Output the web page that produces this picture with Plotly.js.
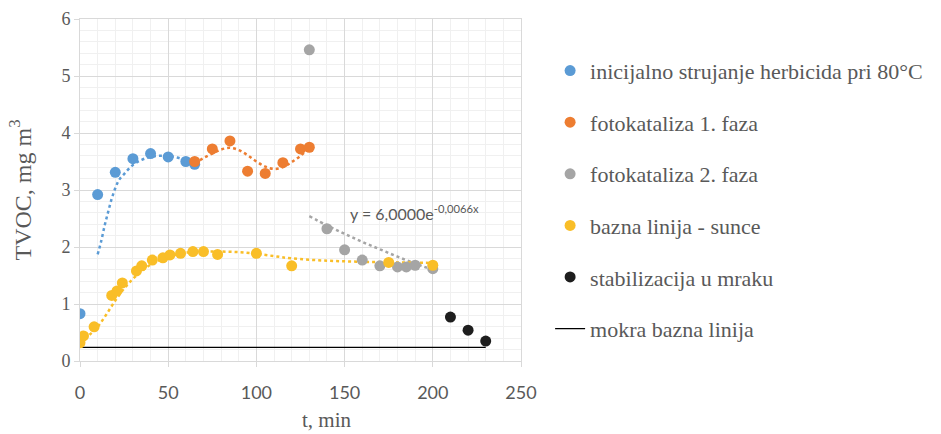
<!DOCTYPE html>
<html>
<head>
<meta charset="utf-8">
<script src="https://cdn.plot.ly/plotly-3.0.1.min.js"></script>
<style>html,body{margin:0;padding:0;background:#fff;}#chart{width:941px;height:434px;}</style>
</head>
<body>
<div id="chart"></div>
<script>
// ---- data ----
const seriesNames = [
  "inicijalno strujanje herbicida pri 80°C",
  "fotokataliza 1. faza",
  "fotokataliza 2. faza",
  "bazna linija - sunce",
  "stabilizacija u mraku",
  "mokra bazna linija"
];

const blueX = [0, 10, 20, 30, 40, 50, 60, 65];
const blueY = [0.83, 2.92, 3.31, 3.55, 3.64, 3.58, 3.50, 3.45];

const orangeX = [65, 75, 85, 95, 105, 115, 125, 130];
const orangeY = [3.50, 3.72, 3.86, 3.33, 3.29, 3.48, 3.72, 3.75];

const grayX = [130, 140, 150, 160, 170, 180, 185, 190, 200];
const grayY = [5.46, 2.32, 1.95, 1.77, 1.67, 1.65, 1.65, 1.68, 1.62];

const yellowX = [0, 2, 8, 18, 21, 24, 32, 35, 41, 47, 51, 57, 64, 70, 78, 100, 120, 175, 200];
const yellowY = [0.32, 0.44, 0.60, 1.15, 1.23, 1.37, 1.58, 1.67, 1.77, 1.81, 1.86, 1.89, 1.92, 1.92, 1.87, 1.89, 1.67, 1.73, 1.68];

const blackX = [210, 220, 230];
const blackY = [0.77, 0.54, 0.35];

const wetX = [0, 230];
const wetY = [0.24, 0.24];

// trendlines
const blueTrendX = [10, 12, 14, 16, 18, 20, 22, 25, 30, 35, 40, 45, 50, 55, 60, 65];
const blueTrendY = [1.87, 2.10, 2.38, 2.62, 2.85, 3.03, 3.17, 3.28, 3.44, 3.53, 3.58, 3.60, 3.60, 3.57, 3.52, 3.46];

const orangeTrendX = [65, 70, 75, 80, 85, 90, 95, 100, 105, 110, 115, 120, 125, 130];
const orangeTrendY = [3.47, 3.56, 3.64, 3.71, 3.74, 3.70, 3.61, 3.50, 3.41, 3.37, 3.40, 3.49, 3.60, 3.75];

const grayTrendX = [130, 140, 150, 160, 170, 180, 190, 200];
const grayTrendY = [2.54, 2.38, 2.23, 2.09, 1.96, 1.83, 1.71, 1.60];

const yellowTrendX = [0, 5, 10, 15, 20, 25, 30, 35, 40, 45, 50, 60, 70, 80, 90, 100, 110, 120, 140, 160, 180, 200];
const yellowTrendY = [0.33, 0.45, 0.60, 0.82, 1.06, 1.27, 1.44, 1.58, 1.69, 1.77, 1.83, 1.90, 1.92, 1.92, 1.91, 1.88, 1.84, 1.80, 1.76, 1.74, 1.73, 1.72];

const trendLabel = "y = 6,0000e<sup>-0,0066x</sup>";
const xTitle = "t, min";
const yTitle = "TVOC, mg m<sup>3</sup>";

const colors = ["#5B9BD5", "#ED7D31", "#A5A5A5", "#F9BE28", "#1E1E1E", "#000000"];

// ---- build traces ----
function trend(x, y, c) {
  return {x: x, y: y, mode: "lines", type: "scatter", showlegend: false, hoverinfo: "skip",
          line: {color: c, width: 2.5, dash: "dot", shape: "spline"}};
}
function pts(x, y, i) {
  return {x: x, y: y, mode: "markers", type: "scatter", name: seriesNames[i],
          legendgroup: "g" + i, legendrank: 1000 + i, marker: {color: colors[i], size: 11}};
}

const traces = [
  trend(blueTrendX, blueTrendY, colors[0]),
  trend(orangeTrendX, orangeTrendY, colors[1]),
  trend(grayTrendX, grayTrendY, colors[2]),
  trend(yellowTrendX, yellowTrendY, colors[3]),
  {x: wetX, y: wetY, mode: "lines", type: "scatter", name: seriesNames[5], legendgroup: "g5",
   legendrank: 1100, line: {color: colors[5], width: 1.3}},
  pts(blueX, blueY, 0),
  pts(orangeX, orangeY, 1),
  pts(grayX, grayY, 2),
  pts(yellowX, yellowY, 3),
  pts(blackX, blackY, 4)
];

const serif = "Liberation Serif, Times New Roman, serif";
const sans = "Lato, Open Sans, sans-serif";
const txt = "#595959";

const layout = {
  width: 941, height: 434,
  margin: {l: 80, r: 420, t: 19, b: 73},
  paper_bgcolor: "#fff", plot_bgcolor: "#fff",
  showlegend: true,
  legend: {x: 1.066, y: 0.91, xanchor: "left", yanchor: "top",
           font: {family: serif, size: 22, color: txt},
           tracegroupgap: 20, traceorder: "grouped",
           bgcolor: "rgba(0,0,0,0)"},
  xaxis: {range: [0, 250], dtick: 50, tick0: 0,
          showgrid: true, gridcolor: "#D9D9D9", gridwidth: 1,
          minor: {dtick: 10, showgrid: true, gridcolor: "#F0F0F0", gridwidth: 1},
          showline: true, linecolor: "#D9D9D9", mirror: true,
          ticks: "outside", ticklen: 5, tickcolor: "#D9D9D9",
          ticklabelstandoff: 10,
          zeroline: false,
          tickfont: {family: sans, size: 18, color: txt}},
  yaxis: {range: [0, 6], dtick: 1, tick0: 0,
          showgrid: true, gridcolor: "#D9D9D9", gridwidth: 1,
          minor: {dtick: 0.2, showgrid: true, gridcolor: "#F0F0F0", gridwidth: 1},
          showline: true, linecolor: "#D9D9D9", mirror: true,
          ticks: "outside", ticklen: 5, tickcolor: "#D9D9D9",
          zeroline: false,
          tickfont: {family: serif, size: 18, color: txt}},
  annotations: [
    {xref: "x", yref: "y", x: 152, y: 2.6, xanchor: "left", yanchor: "middle",
     text: trendLabel, showarrow: false, font: {family: sans, size: 16, color: txt}},
    {xref: "paper", yref: "paper", x: 0.56, y: -0.2135, xanchor: "center", yanchor: "bottom",
     text: xTitle, showarrow: false, font: {family: serif, size: 21, color: txt}},
    {xref: "paper", yref: "paper", x: -0.135, y: 0.5, xanchor: "center", yanchor: "middle",
     text: yTitle, textangle: -90, showarrow: false, font: {family: serif, size: 24, color: txt}}
  ]
};

Plotly.newPlot("chart", traces, layout, {displayModeBar: false, staticPlot: true});
</script>
</body>
</html>
